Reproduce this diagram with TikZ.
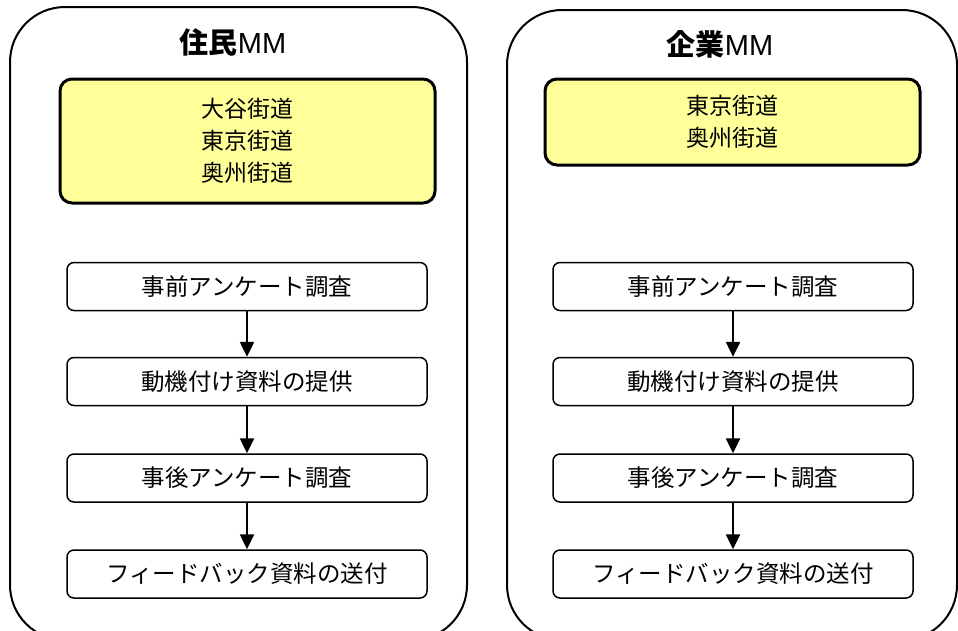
\documentclass[tikz,border=0pt]{standalone}
\usepackage{fontspec}
\setmainfont{Noto Sans CJK JP}
\newfontfamily\latinfont{Liberation Sans}
\usetikzlibrary{arrows.meta}
\tikzset{
  outerbox/.style={draw=black, line width=2pt, rounded corners=55pt, inner sep=0pt},
  areabox/.style={draw=black, line width=3pt, fill=areayellow, rounded corners=12pt, inner sep=0pt, align=center, font=\fontsize{23}{32}\selectfont},
  stepbox/.style={draw=black, line width=1.5pt, rounded corners=7pt, inner sep=0pt, minimum width=360pt, minimum height=48pt, font=\fontsize{23.5}{28}\selectfont},
  titletext/.style={font=\fontsize{29}{32}\selectfont, inner sep=0pt},
  flow/.style={line width=2.5pt, -{Triangle[width=14pt,length=15pt]}}
}
\definecolor{areayellow}{HTML}{FFFF99}
\begin{document}
\begin{tikzpicture}[x=1pt,y=-1pt]
\useasboundingbox (0,0) rectangle (958,630);
% left column
\node[outerbox, minimum width=457pt, minimum height=633pt] (LO) at (238.5,323.5) {};
\node[titletext] (LT) at (233,42) {\textbf{住民}{\latinfont MM}};
\node[areabox, minimum width=375pt, minimum height=124pt] (LA) at (247.5,141) {大谷街道\\東京街道\\奥州街道};
\node[stepbox] (L1) at (247,286.5) {事前アンケート調査};
\node[stepbox] (L2) at (247,381.5) {動機付け資料の提供};
\node[stepbox] (L3) at (247,478) {事後アンケート調査};
\node[stepbox] (L4) at (247,574) {フィードバック資料の送付};
\draw[flow] (L1) -- (L2);
\draw[flow] (L2) -- (L3);
\draw[flow] (L3) -- (L4);
% right column
\node[outerbox, minimum width=450pt, minimum height=630pt] (RO) at (732,325) {};
\node[titletext] (RT) at (720,44) {\textbf{企業}{\latinfont MM}};
\node[areabox, minimum width=375pt, minimum height=86pt] (RA) at (732.5,122) {東京街道\\奥州街道};
\node[stepbox] (R1) at (733,286.5) {事前アンケート調査};
\node[stepbox] (R2) at (733,381.5) {動機付け資料の提供};
\node[stepbox] (R3) at (733,478) {事後アンケート調査};
\node[stepbox] (R4) at (733,574) {フィードバック資料の送付};
\draw[flow] (R1) -- (R2);
\draw[flow] (R2) -- (R3);
\draw[flow] (R3) -- (R4);
\end{tikzpicture}
\end{document}
